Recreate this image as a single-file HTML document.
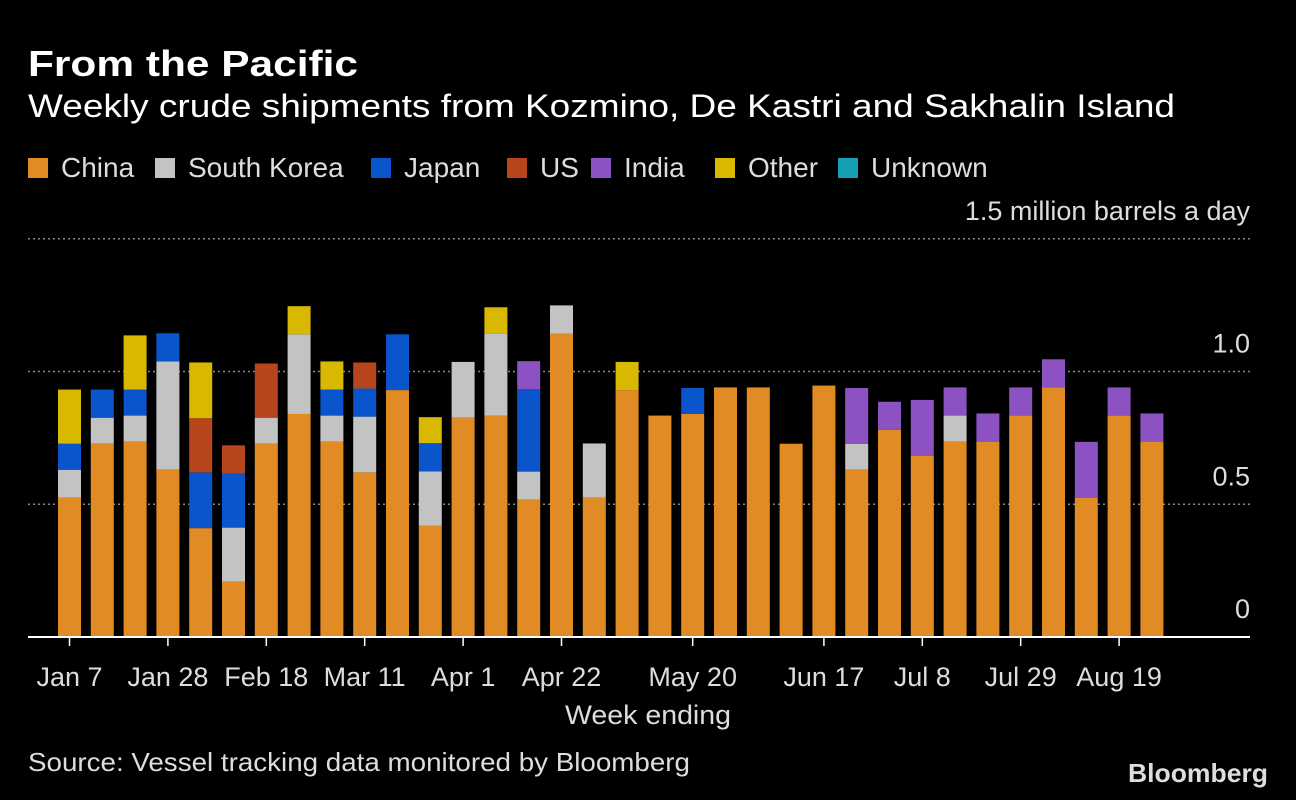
<!DOCTYPE html>
<html><head><meta charset="utf-8"><style>
html,body{margin:0;padding:0;background:#000;}
svg{display:block;font-family:"Liberation Sans",sans-serif;}
</style></head><body>
<svg id="chart" width="1296" height="800" viewBox="0 0 1296 800">
<rect x="0" y="0" width="1296" height="800" fill="#000"/>
<text x="28" y="76" fill="#fff" font-size="36" font-weight="bold" textLength="330" lengthAdjust="spacingAndGlyphs">From the Pacific</text>
<text x="28" y="117" fill="#fff" font-size="32" textLength="1147" lengthAdjust="spacingAndGlyphs">Weekly crude shipments from Kozmino, De Kastri and Sakhalin Island</text>
<g id="legend"></g>
<g id="grid"></g>
<g id="bars"></g>
<g id="xaxis"></g>
<text x="648" y="724" fill="#ddd" font-size="27" text-anchor="middle" textLength="166" lengthAdjust="spacingAndGlyphs">Week ending</text>
<text x="28" y="771" fill="#ddd" font-size="26" textLength="662" lengthAdjust="spacingAndGlyphs">Source: Vessel tracking data monitored by Bloomberg</text>
<text x="1268" y="782" fill="#ddd" font-size="26" font-weight="bold" text-anchor="end" textLength="140" lengthAdjust="spacingAndGlyphs">Bloomberg</text>
</svg>
<script>
const seriesNames = ["China","South Korea","Japan","US","India","Other","Unknown"];
const seriesColors = ["#e08b24","#c3c3c3","#0a55cc","#b8461c","#8c52c2","#d8b800","#15a0b5"];
const china   = [0.525,0.728,0.736,0.63,0.41,0.208,0.728,0.84,0.736,0.62,0.93,0.42,0.826,0.834,0.517,1.143,0.525,0.93,0.834,0.84,0.94,0.94,0.728,0.947,0.63,0.78,0.683,0.736,0.736,0.834,0.94,0.525,0.834,0.736];
const skorea  = [0.105,0.098,0.098,0.408,0,0.204,0.098,0.30,0.098,0.21,0,0.204,0.21,0.31,0.106,0.106,0.204,0,0,0,0,0,0,0,0.098,0,0,0.098,0,0,0,0,0,0];
const japan   = [0.098,0.106,0.098,0.106,0.21,0.204,0,0,0.098,0.106,0.21,0.106,0,0,0.31,0,0,0,0,0.098,0,0,0,0,0,0,0,0,0,0,0,0,0,0];
const us      = [0,0,0,0,0.204,0.106,0.204,0,0,0.098,0,0,0,0,0,0,0,0,0,0,0,0,0,0,0,0,0,0,0,0,0,0,0,0];
const india   = [0,0,0,0,0,0,0,0,0,0,0,0,0,0,0.106,0,0,0,0,0,0,0,0,0,0.21,0.106,0.21,0.106,0.106,0.106,0.106,0.21,0.106,0.106];
const other   = [0.204,0,0.204,0,0.21,0,0,0.106,0.106,0,0,0.098,0,0.098,0,0,0,0.106,0,0,0,0,0,0,0,0,0,0,0,0,0,0,0,0];
const unknown = [0,0,0,0,0,0,0,0,0,0,0,0,0,0,0,0,0,0,0,0,0,0,0,0,0,0,0,0,0,0,0,0,0,0];
const tickIndex = [0,3,6,9,12,15,19,23,26,29,32];
const tickLabels = ["Jan 7","Jan 28","Feb 18","Mar 11","Apr 1","Apr 22","May 20","Jun 17","Jul 8","Jul 29","Aug 19"];
const yTicks = [0,0.5,1.0,1.5];
const yTickLabels = ["0","0.5","1.0","1.5 million barrels a day"];

const NS="http://www.w3.org/2000/svg";
const y0=637, pxPerUnit=265.5;
const yScale=v=>y0-v*pxPerUnit;
const xScale=i=>69.5+i*32.8;
const barW=23;
function mk(tag,attrs,parent){const e=document.createElementNS(NS,tag);for(const k in attrs)e.setAttribute(k,attrs[k]);parent.appendChild(e);return e;}

// legend
const lg=document.getElementById('legend');
const legendX=[28,155,371,507,591,715,838];
seriesNames.forEach((n,i)=>{
  const r=mk('rect',{x:legendX[i],y:158,width:20,height:20,fill:seriesColors[i]},lg);
  
  
  const t=mk('text',{x:legendX[i]+33,y:177,fill:'#ddd','font-size':28},lg);
  t.textContent=n;
  
  
});

// grid & y labels
const gr=document.getElementById('grid');
yTicks.forEach((v,i)=>{
  const y=yScale(v);
  if(v>0){const l=mk('line',{x1:28,x2:1250,y1:y,y2:y,stroke:'#888','stroke-width':1.5,'stroke-dasharray':'2,3'},gr);
    
    }
  const t=mk('text',{x:1250,y:y-19,fill:'#ddd','font-size':27,'text-anchor':'end'},gr);
  t.textContent=yTickLabels[i];
  
  
});

// bars
const series=[china,skorea,japan,us,india,other,unknown];
const bg=document.getElementById('bars');
china.forEach((_,i)=>{
  let acc=0;
  series.forEach((s,k)=>{
    const v=s[i]; if(!v) return;
    const r=mk('rect',{x:xScale(i)-barW/2,y:yScale(acc+v),width:barW,height:v*pxPerUnit,fill:seriesColors[k]},bg);
    
    
    acc+=v;
  });
});

// x axis
const xa=document.getElementById('xaxis');
const al=mk('line',{x1:28,x2:1250,y1:y0,y2:y0,stroke:'#fff','stroke-width':2},xa);


tickIndex.forEach((idx,j)=>{
  const x=xScale(idx);
  const tk=mk('line',{x1:x,x2:x,y1:y0,y2:y0+9,stroke:'#fff','stroke-width':1.5},xa);
  
  
  const t=mk('text',{x:x,y:686,fill:'#ddd','font-size':27,'text-anchor':'middle'},xa);
  t.textContent=tickLabels[j];
  
  
});
</script>
</body></html>
